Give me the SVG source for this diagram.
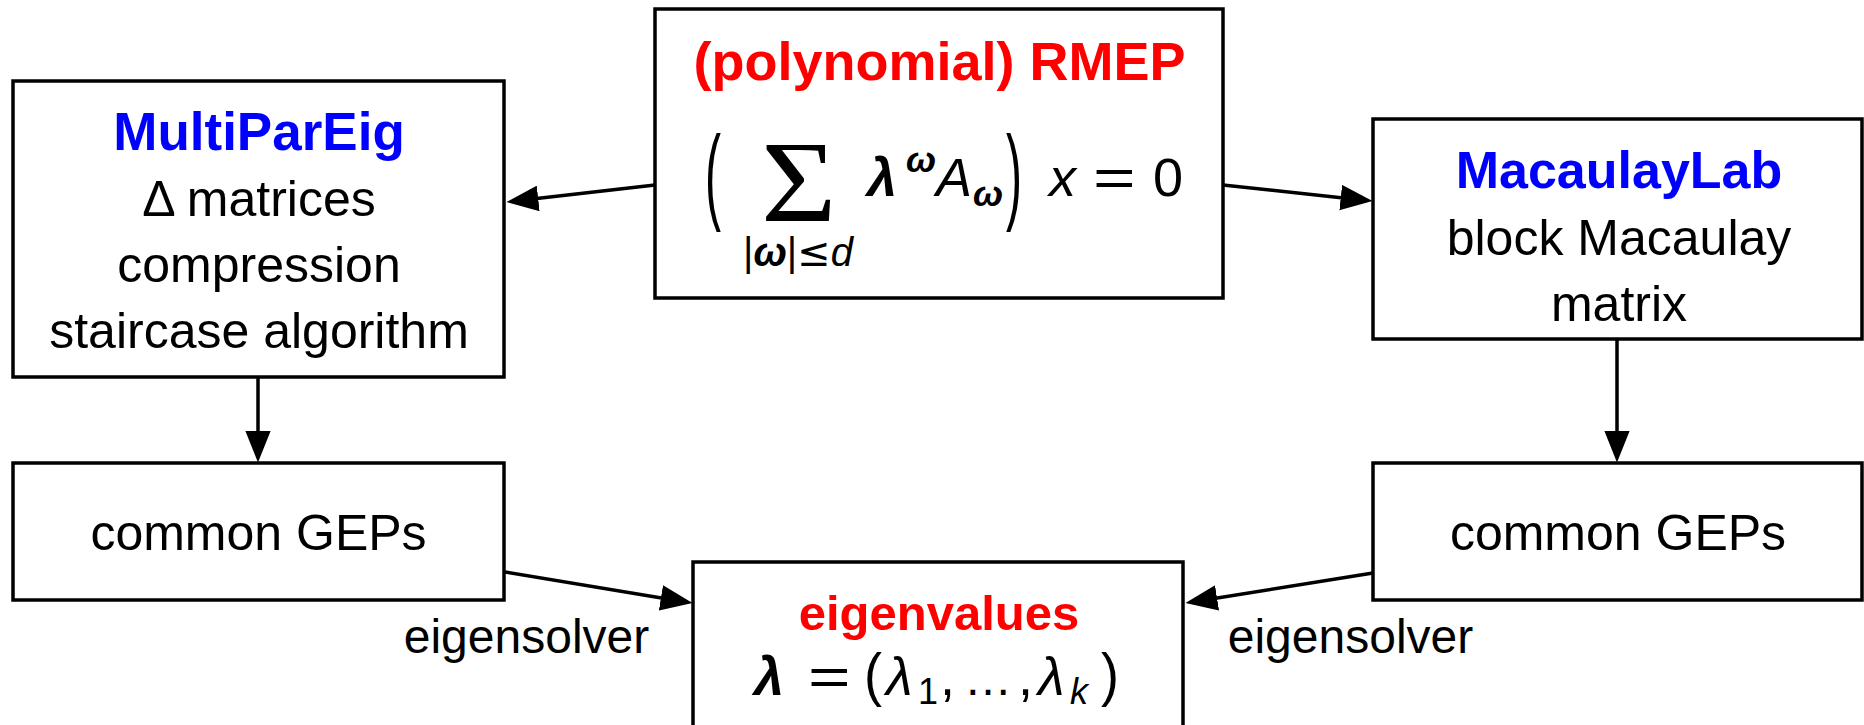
<svg xmlns="http://www.w3.org/2000/svg" width="1864" height="725" viewBox="0 0 1864 725">
<defs>
<marker id="ah" markerUnits="userSpaceOnUse" markerWidth="32" markerHeight="26" viewBox="0 0 30 24" refX="22" refY="12" orient="auto"><path d="M0,0 L30,12 L0,24 z" fill="#000"/></marker>
<style>
.box{fill:#fff;stroke:#000;stroke-width:3.5}
.t{font-family:"Liberation Sans",Arial,sans-serif;font-size:50px;fill:#000;text-anchor:middle}
.b{font-weight:bold}
.red{fill:#ff0000}
.blue{fill:#0000ff}
.m{font-family:"Liberation Sans",Arial,sans-serif;fill:#000;font-size:54px}
.s{font-size:36px}
.it{font-style:italic}
.bi{font-style:italic;font-weight:bold}
.conn{stroke:#000;stroke-width:3.5;fill:none;marker-end:url(#ah)}
.lbl{font-family:"Liberation Sans",Arial,sans-serif;font-size:48px;fill:#000;text-anchor:middle}
</style>
</defs>
<rect width="1864" height="725" fill="#fff"/>

<g id="connectors">
<line class="conn" x1="655" y1="185" x2="514.9" y2="201.1"/>
<line class="conn" x1="1223" y1="185" x2="1364.05" y2="200.15"/>
<line class="conn" x1="258" y1="377" x2="258" y2="454"/>
<line class="conn" x1="1617" y1="339" x2="1617" y2="454"/>
<line class="conn" x1="505" y1="572" x2="684.1" y2="601.7"/>
<line class="conn" x1="1373" y1="573" x2="1193.9" y2="601.7"/>
<text class="lbl" x="526.5" y="653">eigensolver</text>
<text class="lbl" x="1350.5" y="653">eigensolver</text>
</g>

<g id="rmep">
<rect class="box" x="655" y="9" width="568" height="289"/>
<text class="t b red" x="939.5" y="80" style="font-size:54px">(polynomial) RMEP</text>
<text class="m" transform="translate(705,210) scale(1,2.2)" style="font-size:48px">(</text>
<text transform="translate(761,221) scale(1.12,1)" font-family="Liberation Serif, serif" font-size="116">Σ</text>
<text class="m" x="798" y="266" text-anchor="middle" style="font-size:40px">|<tspan class="bi">ω</tspan>|<tspan font-family="DejaVu Sans, sans-serif">≤</tspan><tspan class="it">d</tspan></text>
<text class="m bi" x="867" y="196">λ</text>
<text class="m s bi" x="906" y="172">ω</text>
<text class="m it" x="936" y="196">A</text>
<text class="m s bi" x="973" y="206">ω</text>
<text class="m" transform="translate(1006,210) scale(1,2.2)" style="font-size:48px">)</text>
<text class="m it" x="1049" y="196">x</text>
<text class="m" transform="translate(1093,196) scale(1.35,1)">=</text>
<text class="m" x="1153" y="196">0</text>
</g>

<g id="multipareig">
<rect class="box" x="13" y="81" width="491" height="296"/>
<text class="t b blue" x="259" y="150" style="font-size:53px">MultiParEig</text>
<text class="t" x="259" y="216">Δ matrices</text>
<text class="t" x="259" y="282">compression</text>
<text class="t" x="259" y="348">staircase algorithm</text>
</g>

<g id="macaulaylab">
<rect class="box" x="1373" y="119" width="489" height="220"/>
<text class="t b blue" x="1619" y="188" style="font-size:52px">MacaulayLab</text>
<text class="t" x="1619" y="255">block Macaulay</text>
<text class="t" x="1619" y="321">matrix</text>
</g>

<g id="gep-left">
<rect class="box" x="13" y="463" width="491" height="137"/>
<text class="t" x="258.5" y="550">common GEPs</text>
</g>

<g id="gep-right">
<rect class="box" x="1373" y="463" width="489" height="137"/>
<text class="t" x="1618" y="550">common GEPs</text>
</g>

<g id="eigenvalues">
<rect class="box" x="693" y="562" width="490" height="200"/>
<text class="t b red" x="939" y="630" style="font-size:49px">eigenvalues</text>
<text class="m bi" x="754" y="695">λ</text>
<text class="m" transform="translate(808,695) scale(1.35,1)">=</text>
<text class="m" transform="translate(864,695) scale(1,1.1)">(</text>
<text class="m it" x="886" y="695">λ</text>
<text class="m s" x="918" y="704">1</text>
<text class="m" x="940" y="695">,</text>
<text class="m" x="964" y="695" style="font-size:48px">…</text>
<text class="m" x="1018" y="695">,</text>
<text class="m it" x="1038" y="695">λ</text>
<text class="m s it" x="1070" y="704">k</text>
<text class="m" transform="translate(1101,695) scale(1,1.1)">)</text>
</g>
</svg>
